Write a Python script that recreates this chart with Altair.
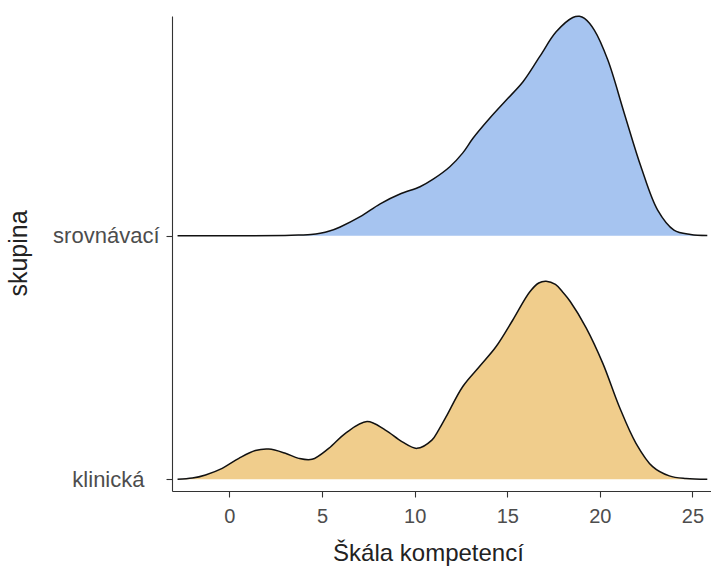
import altair as alt
import pandas as pd

groups = ["klinická", "srovnávací"]
colors = ["#F0CD8C", "#A6C4F0"]

# ridge heights (in units of row spacing)
klin_x = [-2.8, -2.0, -1.29, -0.39, 0.51, 1.40, 2.12, 3.02, 3.74, 4.46, 5.36, 6.26,
          7.43, 8.42, 9.31, 10.12, 10.93, 11.3, 11.7, 12.6, 13.5, 14.4, 15.3, 16.2, 16.7,
          17.1, 17.6, 18.0, 18.4, 19.26, 20.16, 21.05, 21.95, 22.85, 23.75, 24.65, 25.8]
klin_h = [0.0, 0.005, 0.018, 0.045, 0.086, 0.118, 0.124, 0.107, 0.086, 0.082, 0.127, 0.189,
          0.237, 0.202, 0.155, 0.127, 0.161, 0.203, 0.257, 0.381, 0.463, 0.545, 0.654, 0.768,
          0.806, 0.813, 0.800, 0.768, 0.730, 0.622, 0.476, 0.298, 0.148, 0.052, 0.014, 0.003, 0.0]

srov_x = [-2.8, 0.0, 3.0, 3.83, 4.4, 4.9, 5.4, 5.98, 7.06, 8.14, 9.21, 10.29, 11.0, 11.9, 12.6,
          13.15, 14.05, 14.95, 15.85, 16.75, 17.64, 18.54, 18.9, 19.17, 19.7, 20.43,
          21.32, 22.22, 23.12, 24.0, 24.9, 25.8]
srov_h = [0.0, 0.0, 0.001, 0.003, 0.005, 0.010, 0.019, 0.036, 0.078, 0.131, 0.171, 0.201, 0.232,
          0.283, 0.340, 0.400, 0.482, 0.557, 0.632, 0.735, 0.837, 0.896, 0.901, 0.892, 0.844,
          0.721, 0.502, 0.283, 0.105, 0.023, 0.005, 0.001]

x_ticks = [0, 5, 10, 15, 20, 25]

rows = []
for i, (g, xs, hs) in enumerate([(groups[0], klin_x, klin_h), (groups[1], srov_x, srov_h)]):
    for x, h in zip(xs, hs):
        rows.append({"skupina": g, "x": x, "base": float(i), "top": i + h})
df = pd.DataFrame(rows)

FONT = "Liberation Sans"
INTERP = "catmull-rom"

xenc = alt.X("x:Q", title="Škála kompetencí",
             scale=alt.Scale(domain=[-3.1, 26.0], nice=False, zero=False),
             axis=alt.Axis(values=x_ticks, grid=False, tickSize=6, labelPadding=9,
                           labelFontSize=20, titleFontSize=24,
                           titleX=256, titleY=62, titleBaseline="middle",
                           labelFlush=False))
yscale = alt.Scale(domain=[-0.048, 1.902], nice=False, zero=False)
yenc = alt.Y("top:Q", title="skupina", scale=yscale,
             axis=alt.Axis(values=[0, 1], grid=False, tickSize=6,
                           labelPadding={"condition": {"test": "datum.value == 0", "value": 22},
                                         "value": 7},
                           labelFontSize=22, titleFontSize=25,
                           titleX=-154, titleY=237, titleBaseline="middle",
                           titleAlign="center", titleAngle=270,
                           labelExpr="datum.value == 0 ? 'klinická' : 'srovnávací'"))

area = alt.Chart(df).mark_area(interpolate=INTERP, opacity=1).encode(
    x=xenc,
    y=yenc,
    y2="base:Q",
    color=alt.Color("skupina:N", scale=alt.Scale(domain=groups, range=colors), legend=None),
    detail="skupina:N",
)
line = alt.Chart(df).mark_line(interpolate=INTERP, color="#111111", strokeWidth=1.5).encode(
    x="x:Q",
    y="top:Q",
    detail="skupina:N",
)

chart = alt.layer(area, line).properties(
    width=539, height=475,
    autosize=alt.AutoSizeParams(type="none"),
    padding={"left": 172, "top": 16, "right": 0, "bottom": 83},
    background="white",
).configure_view(stroke=None).configure_axis(
    domainColor="#333333", tickColor="#333333", domainWidth=1.1, tickWidth=1.1,
    labelColor="#4d4d4d", titleColor="#222222", labelFont=FONT, titleFont=FONT,
    titleFontWeight="normal",
)

chart.save("out.html", embed_options={"renderer": "svg", "actions": False})
